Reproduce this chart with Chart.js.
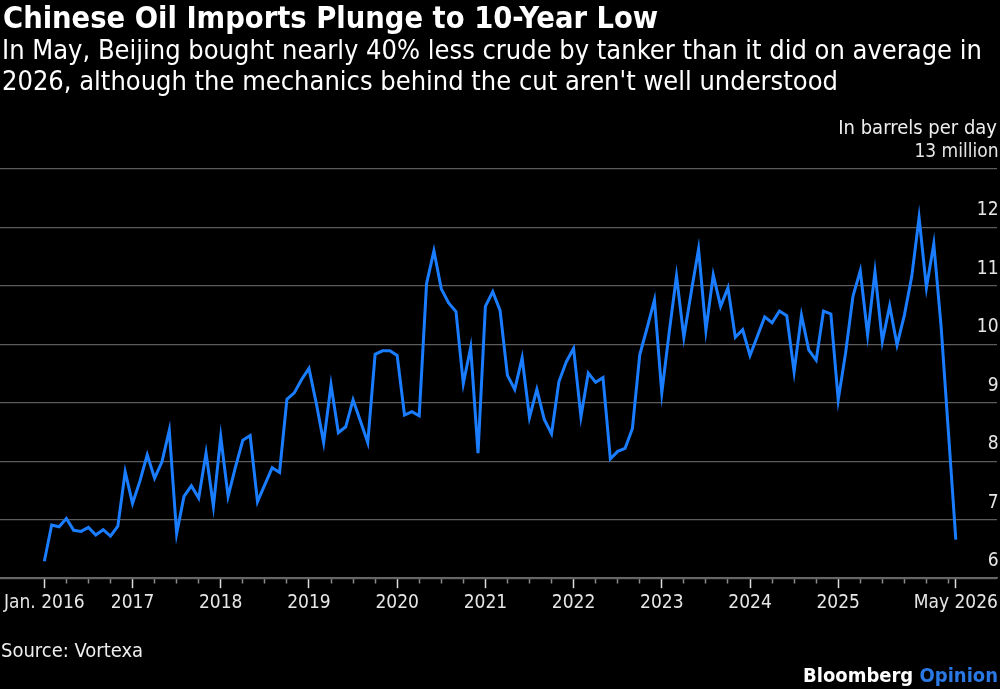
<!DOCTYPE html>
<html><head><meta charset="utf-8">
<script src="https://cdn.jsdelivr.net/npm/chart.js@4.4.1/dist/chart.umd.min.js"></script>
<style>
html,body{margin:0;padding:0;background:#000;width:1000px;height:689px;overflow:hidden;}
#wrap{position:absolute;left:0;top:0;width:1000px;height:689px;}
.t{position:absolute;color:#fff;white-space:nowrap;font-family:"DejaVu Sans Condensed","DejaVu Sans",sans-serif;}
#title{left:3px;top:3px;font-size:30.5px;line-height:30px;font-weight:bold;}
#sub{left:2px;top:34px;font-size:27px;line-height:31px;}
#unit{right:3px;top:115px;font-size:20px;line-height:25px;color:#eee;}
#src{left:1px;top:638px;font-size:20px;line-height:25px;color:#eee;}
#logo{right:2px;top:662px;font-size:20px;line-height:26px;font-weight:bold;}
</style></head><body>
<div id="wrap"><canvas id="c"></canvas></div>
<div id="title" class="t">Chinese Oil Imports Plunge to 10-Year Low</div>
<div id="sub" class="t">In May, Beijing bought nearly 40% less crude by tanker than it did on average in<br>2026, although the mechanics behind the cut aren't well understood</div>
<div id="unit" class="t">In barrels per day</div>
<div id="src" class="t">Source: Vortexa</div>
<div id="logo" class="t">Bloomberg <span style="color:#2a78e4">Opinion</span></div>
<script>
// Monthly crude imports by tanker, million barrels per day (Jan 2016 - May 2026)
const v2016 = [6.29, 6.91, 6.88, 7.02, 6.82, 6.80, 6.87, 6.74, 6.83, 6.72, 6.89, 7.82];
const v2017 = [7.28, 7.66, 8.11, 7.71, 7.99, 8.53, 6.76, 7.40, 7.58, 7.37, 8.14, 7.23];
const v2018 = [8.42, 7.40, 7.90, 8.36, 8.44, 7.31, 7.60, 7.89, 7.81, 9.06, 9.17, 9.40];
const v2019 = [9.59, 8.99, 8.32, 9.31, 8.49, 8.59, 9.05, 8.69, 8.32, 9.83, 9.89, 9.89];
const v2020 = [9.81, 8.79, 8.85, 8.78, 11.04, 11.60, 10.95, 10.71, 10.56, 9.33, 9.95, 8.14];
const v2021 = [10.65, 10.90, 10.58, 9.47, 9.23, 9.77, 8.75, 9.23, 8.72, 8.47, 9.36, 9.70];
const v2022 = [9.93, 8.76, 9.51, 9.35, 9.43, 8.04, 8.17, 8.22, 8.56, 9.82, 10.28, 10.76];
const v2023 = [9.17, 10.20, 11.17, 10.12, 10.89, 11.63, 10.24, 11.19, 10.65, 10.97, 10.12, 10.25];
const v2024 = [9.81, 10.14, 10.47, 10.37, 10.57, 10.49, 9.53, 10.50, 9.90, 9.73, 10.57, 10.52];
const v2025 = [9.05, 9.85, 10.82, 11.26, 10.16, 11.24, 10.05, 10.66, 9.99, 10.50, 11.16, 12.17];
const v2026 = [10.97, 11.72, 10.30, 8.48, 6.66];

const years = ['2016','2017','2018','2019','2020','2021','2022','2023','2024','2025','2026'];
const monthNames = ['Jan','Feb','Mar','Apr','May','Jun','Jul','Aug','Sep','Oct','Nov','Dec'];

const xTickIndex  = [0, 12, 24, 36, 48, 60, 72, 84, 96, 108, 124];
const xTickLabels = ['Jan. 2016','2017','2018','2019','2020','2021','2022','2023','2024','2025','May 2026'];
const yTickValues = [6, 7, 8, 9, 10, 11, 12, 13];
const yTickLabels = ['6','7','8','9','10','11','12','13 million'];

const values = [].concat(v2016, v2017, v2018, v2019, v2020, v2021, v2022, v2023, v2024, v2025, v2026);
const categories = values.map((_, i) => monthNames[i % 12] + ' ' + years[Math.floor(i / 12)]);
const points = values.map((v, i) => ({x: i, y: v}));
const lastIndex = values.length - 1;

const FONT = '"DejaVu Sans Condensed", "DejaVu Sans", sans-serif';
const majorSet = new Set(xTickIndex);

new Chart(document.getElementById('c'), {
  type: 'line',
  data: {
    labels: categories,
    datasets: [{
      data: points,
      borderColor: '#1a7dff',
      borderWidth: 3,
      pointRadius: 0,
      tension: 0,
      fill: false
    }]
  },
  options: {
    responsive: true,
    maintainAspectRatio: false,
    animation: false,
    events: [],
    layout: {padding: {top: 169, bottom: 72, left: 0, right: 0}},
    plugins: {legend: {display: false}, tooltip: {enabled: false}},
    scales: {
      x: {
        type: 'linear',
        min: -6.03,
        max: 129.6,
        afterBuildTicks: (s) => {
          const t = [];
          for (let i = 0; i < lastIndex; i += 3) t.push({value: i});
          t.push({value: lastIndex});
          s.ticks = t;
        },
        afterFit: (s) => { s.paddingLeft = 0; s.paddingRight = 0; },
        ticks: {
          autoSkip: false, maxRotation: 0, padding: 3,
          color: '#e6e6e6',
          font: {family: FONT, size: 19},
          callback: (v) => { const k = xTickIndex.indexOf(v); return k >= 0 ? xTickLabels[k] : ''; }
        },
        grid: {
          drawOnChartArea: false,
          drawTicks: true,
          tickLength: 10,
          tickWidth: 1.5,
          tickColor: (ctx) => majorSet.has(ctx.tick && ctx.tick.value) ? '#dddddd' : '#8a8a8a',
          tickBorderDash: (ctx) => majorSet.has(ctx.tick && ctx.tick.value) ? [] : [5, 40]
        },
        border: {display: true, color: '#6a6a6a', width: 1.5}
      },
      y: {
        position: 'right',
        min: 6, max: 13,
        afterBuildTicks: (s) => { s.ticks = yTickValues.map(v => ({value: v})); },
        ticks: {
          mirror: true, padding: 1.5, labelOffset: -17,
          color: '#e6e6e6',
          font: {family: FONT, size: 19},
          callback: (v) => { const k = yTickValues.indexOf(v); return k >= 0 ? yTickLabels[k] : ''; }
        },
        grid: {color: '#5c5c5c', lineWidth: 1.3, drawTicks: false},
        border: {display: false}
      }
    }
  }
});
</script>
</body></html>
